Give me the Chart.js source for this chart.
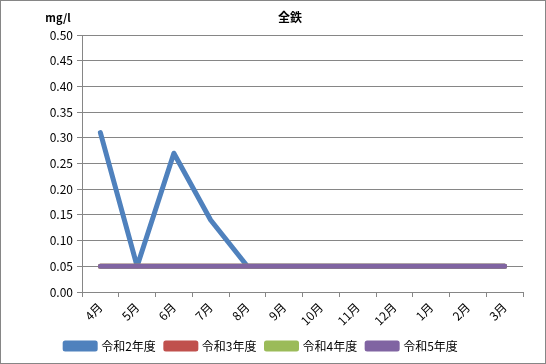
<!DOCTYPE html>
<html>
<head>
<meta charset="utf-8">
<script src="https://cdn.jsdelivr.net/npm/chart.js@4/dist/chart.umd.min.js"></script>
<style>
  body { margin: 0; background: #fff; }
  #wrap { width: 546px; height: 364px; }
</style>
</head>
<body>
<div id="wrap"><canvas id="ironChart"></canvas></div>
<script>
const months = ['4月', '5月', '6月', '7月', '8月', '9月', '10月', '11月', '12月', '1月', '2月', '3月'];
const yTicks = ['0.00', '0.05', '0.10', '0.15', '0.20', '0.25', '0.30', '0.35', '0.40', '0.45', '0.50'];

const r2Values = [0.31, 0.05, 0.27, 0.14, 0.05, 0.05, 0.05, 0.05, 0.05, 0.05, 0.05, 0.05];
const r3Values = [0.05, 0.05, 0.05, 0.05, 0.05, 0.05, 0.05, 0.05, 0.05, 0.05, 0.05, 0.05];
const r4Values = [0.05, 0.05, 0.05, 0.05, 0.05, 0.05, 0.05, 0.05, 0.05, 0.05, 0.05, 0.05];
const r5Values = [0.05, 0.05, 0.05, 0.05, 0.05, 0.05, 0.05, 0.05, 0.05, 0.05, 0.05, 0.05];

const font = '"Noto Sans CJK JP", "Liberation Sans", sans-serif';

function series(label, data, color) {
    return {
        label: label,
        data: data,
        borderColor: color,
        backgroundColor: color,
        borderWidth: 5,
        borderCapStyle: 'round',
        borderJoinStyle: 'round',
        pointRadius: 0,
        fill: false,
        tension: 0
    };
}

// extra text + outer frame, like the spreadsheet chart
const decorations = {
    id: 'decorations',
    beforeDraw(chart) {
        const c = chart.ctx;
        c.save();
        c.fillStyle = '#fff';
        c.fillRect(0, 0, chart.width, chart.height);
        c.restore();
    },
    afterDraw(chart) {
        const c = chart.ctx;
        c.save();
        c.strokeStyle = '#868686';
        c.lineWidth = 1;
        c.strokeRect(0.5, 0.5, chart.width - 1, chart.height - 1);
        c.fillStyle = '#000';
        c.textAlign = 'center';
        c.textBaseline = 'middle';
        c.font = 'bold 12px ' + font;
        c.fillText('全鉄', 290, 17);
        c.font = 'bold 11px ' + font;
        c.fillText('mg/l', 58, 18);
        c.restore();
    }
};

const ironChart = new Chart(document.getElementById('ironChart').getContext('2d'), {
    type: 'line',
    data: {
        labels: months,
        // reversed so the 令和5年度 line is painted on top
        datasets: [
            series('令和5年度', r5Values, '#8064A2'),
            series('令和4年度', r4Values, '#9BBB59'),
            series('令和3年度', r3Values, '#C0504D'),
            series('令和2年度', r2Values, '#4F81BD')
        ]
    },
    options: {
        responsive: true,
        maintainAspectRatio: false,
        animation: false,
        layout: { padding: { top: 35, right: 23, bottom: 2, left: 0 } },
        scales: {
            x: {
                offset: true,
                grid: { display: true, drawOnChartArea: false, drawTicks: true, tickLength: 5, color: '#868686', offset: true },
                border: { color: '#868686' },
                ticks: { color: '#000', font: { family: font, size: 12 }, maxRotation: 45, minRotation: 45, padding: 3 },
                afterFit(s) { s.height = 38; }
            },
            y: {
                min: 0,
                max: 0.5,
                grid: { color: '#868686', tickLength: 5 },
                border: { color: '#868686' },
                ticks: {
                    stepSize: 0.05,
                    color: '#000',
                    font: { family: font, size: 12 },
                    padding: 4,
                    callback: (v, i) => yTicks[i]
                },
                afterFit(s) { s.width = 82; }
            }
        },
        plugins: {
            title: { display: false },
            tooltip: { enabled: false },
            legend: {
                position: 'bottom',
                reverse: true,
                labels: {
                    color: '#000',
                    font: { family: font, size: 12 },
                    boxWidth: 30,
                    boxHeight: 6,
                    padding: 10
                }
            }
        }
    },
    plugins: [decorations]
});
</script>
</body>
</html>
